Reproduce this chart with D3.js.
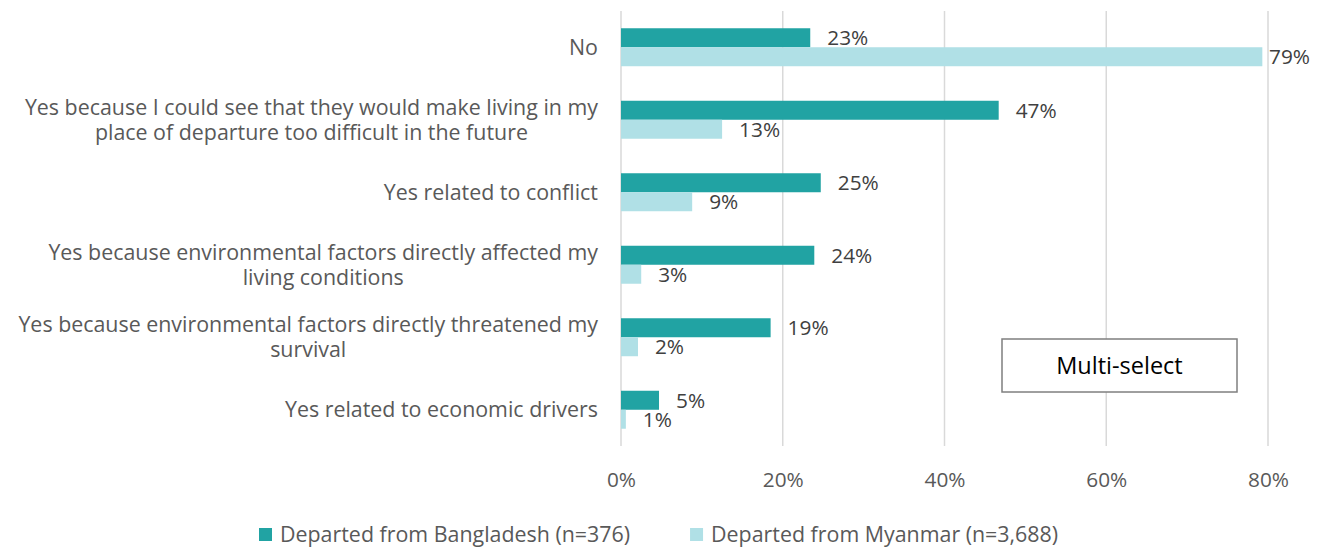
<!DOCTYPE html>
<html><head><meta charset="utf-8">
<script src="https://cdn.jsdelivr.net/npm/d3@7"></script>
<style>
html,body{margin:0;padding:0;background:#fff;}
svg{display:block;font-family:"Open Sans", sans-serif;}
</style></head>
<body><svg id="chart" width="1324" height="549"></svg>
<script>
const categories = [
  ["No"],
  ["Yes because I could see that they would make living in my", "place of departure too difficult in the future"],
  ["Yes related to conflict"],
  ["Yes because environmental factors directly affected my", "living conditions"],
  ["Yes because environmental factors directly threatened my", "survival"],
  ["Yes related to economic drivers"]
];
const seriesNames = ["Departed from Bangladesh (n=376)", "Departed from Myanmar (n=3,688)"];
const bangladesh = [23.4, 46.7, 24.7, 23.9, 18.5, 4.7];
const myanmar = [79.3, 12.5, 8.8, 2.5, 2.1, 0.6];
const bangladeshLabels = ["23%", "47%", "25%", "24%", "19%", "5%"];
const myanmarLabels = ["79%", "13%", "9%", "3%", "2%", "1%"];
const xTicks = [0, 20, 40, 60, 80];
const colors = ["#21A3A3", "#B0E0E6"];
const noteText = "Multi-select";

const svg = d3.select("#chart");
const FS = 21.4;   // category + legend text
const NFS = 20.8;  // numbers
const pLeft = 621, pRight = 1268, pTop = 11, pBottom = 446;

const x = d3.scaleLinear().domain([0, 80]).range([pLeft, pRight]);
const catIdx = categories.map((c, i) => i);
const y = d3.scaleBand().domain(catIdx).range([pTop, pBottom]).paddingInner(0.476).paddingOuter(0.238);
const ys = d3.scaleBand().domain([0, 1]).range([0, y.bandwidth()]);

// gridlines
const grid = svg.append("g");
grid.selectAll("line").data(xTicks).join("line")
  .attr("x1", d => x(d)).attr("x2", d => x(d))
  .attr("y1", pTop).attr("y2", pBottom)
  .attr("stroke", "#D9D9D9").attr("stroke-width", 1.5);

// x axis labels
const xAxis = d3.axisBottom(x).tickValues(xTicks).tickFormat(d => d + "%").tickSize(0).tickPadding(0);
const ax = svg.append("g").attr("transform", `translate(0,${pBottom + 26})`).call(xAxis);
ax.select(".domain").remove();
ax.selectAll("text").attr("font-size", NFS).attr("fill", "#595959").attr("font-family", "'Open Sans', sans-serif").attr("dy", "0.71em");

// bars
const series = [
  {name: seriesNames[0], values: bangladesh, labels: bangladeshLabels, color: colors[0]},
  {name: seriesNames[1], values: myanmar, labels: myanmarLabels, color: colors[1]}
];
series.forEach((s, si) => {
  const g = svg.append("g");
  g.selectAll("rect").data(s.values).join("rect")
    .attr("x", x(0))
    .attr("y", (d, i) => y(i) + ys(si))
    .attr("width", d => x(d) - x(0))
    .attr("height", ys.bandwidth())
    .attr("fill", s.color);
  g.selectAll("text").data(s.values).join("text")
    .attr("x", d => x(d) + 17)
    .attr("y", (d, i) => y(i) + ys(si) + ys.bandwidth() / 2)
    .attr("dy", "0.35em")
    .attr("font-size", NFS).attr("fill", "#404040")
    .text((d, i) => s.labels[i])
    .each(function() {
      const w = this.getComputedTextLength();
      const xx = +this.getAttribute("x");
      if (xx + w > 1310) this.setAttribute("x", 1310 - w);
    });
});

// category labels
const lineH = 25;
const cg = svg.append("g");
categories.forEach((lines, i) => {
  const t = cg.append("text").attr("font-size", FS).attr("fill", "#595959").attr("text-anchor", "middle");
  const cy = y(i) + y.bandwidth() / 2;
  lines.forEach((ln, k) => {
    t.append("tspan").attr("y", cy + (k - (lines.length - 1) / 2) * lineH).attr("dy", "0.35em").text(ln);
  });
  let maxW = 0;
  t.selectAll("tspan").each(function() { maxW = Math.max(maxW, this.getComputedTextLength()); });
  t.selectAll("tspan").attr("x", 598 - maxW / 2);
});

// note box
const nb = svg.append("g");
nb.append("rect").attr("x", 1002).attr("y", 339).attr("width", 235).attr("height", 53)
  .attr("fill", "#fff").attr("stroke", "#7F7F7F").attr("stroke-width", 1.5);
nb.append("text").attr("x", 1119.5).attr("y", 366).attr("dy", "0.35em").attr("text-anchor", "middle")
  .attr("font-size", 23.5).attr("fill", "#000").text(noteText);

// legend
const lg = svg.append("g");
let lx = 259;
series.forEach((s, si) => {
  lg.append("rect").attr("x", lx).attr("y", 528).attr("width", 13).attr("height", 13).attr("fill", s.color);
  const t = lg.append("text").attr("x", lx + 21).attr("y", 534.5).attr("dy", "0.35em")
    .attr("font-size", FS).attr("fill", "#595959").text(s.name);
  lx = lx + 21 + t.node().getComputedTextLength() + 60;
});
</script></body></html>
